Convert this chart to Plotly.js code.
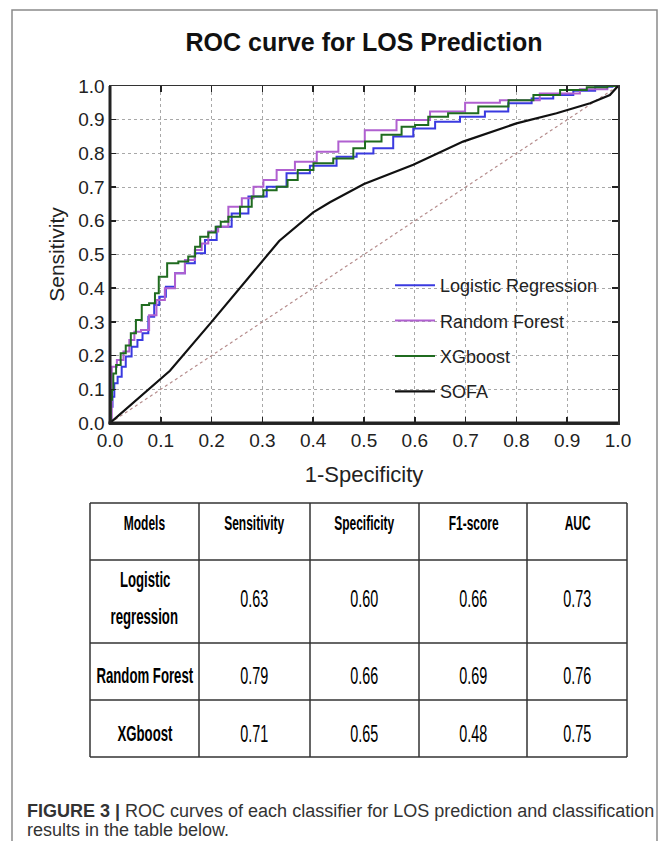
<!DOCTYPE html>
<html>
<head>
<meta charset="utf-8">
<script src="https://cdn.plot.ly/plotly-3.0.1.min.js"></script>
<style>
html,body{margin:0;padding:0;background:#fff;}
#chart{width:669px;height:841px;}
</style>
</head>
<body>
<div id="chart"></div>
<script>
// ---------- ROC data ----------
var lrFpr = [0, 0.003, 0.007, 0.010, 0.020, 0.026, 0.036, 0.049, 0.059, 0.069, 0.082, 0.092, 0.102, 0.118, 0.138, 0.157, 0.177, 0.197, 0.223, 0.256, 0.289, 0.328, 0.367, 0.420, 0.472, 0.499, 0.538, 0.577, 0.617, 0.663, 0.715, 0.761, 0.807, 0.853, 0.892, 0.932, 0.978, 1.0];
var lrTpr = [0, 0.048, 0.078, 0.118, 0.137, 0.167, 0.197, 0.226, 0.246, 0.266, 0.315, 0.350, 0.375, 0.404, 0.444, 0.474, 0.504, 0.543, 0.582, 0.622, 0.672, 0.701, 0.741, 0.763, 0.790, 0.800, 0.815, 0.850, 0.874, 0.894, 0.909, 0.924, 0.949, 0.963, 0.973, 0.986, 0.998, 1.0];

var rfFpr = [0, 0.007, 0.020, 0.033, 0.043, 0.053, 0.069, 0.085, 0.098, 0.118, 0.138, 0.157, 0.177, 0.184, 0.203, 0.223, 0.243, 0.276, 0.289, 0.315, 0.341, 0.387, 0.427, 0.472, 0.531, 0.597, 0.663, 0.735, 0.800, 0.892, 0.958, 1.0];
var rfTpr = [0, 0.167, 0.187, 0.212, 0.246, 0.271, 0.276, 0.320, 0.365, 0.400, 0.444, 0.484, 0.513, 0.533, 0.568, 0.582, 0.642, 0.667, 0.701, 0.721, 0.751, 0.775, 0.805, 0.835, 0.869, 0.899, 0.924, 0.950, 0.958, 0.978, 0.990, 1.0];

var xgFpr = [0, 0.003, 0.005, 0.008, 0.016, 0.026, 0.036, 0.046, 0.056, 0.069, 0.085, 0.092, 0.100, 0.125, 0.144, 0.164, 0.171, 0.184, 0.203, 0.213, 0.223, 0.243, 0.269, 0.289, 0.315, 0.341, 0.358, 0.381, 0.420, 0.459, 0.499, 0.505, 0.564, 0.584, 0.617, 0.636, 0.695, 0.755, 0.814, 0.853, 0.919, 0.958, 1.0];
var xgTpr = [0, 0.069, 0.098, 0.147, 0.172, 0.207, 0.230, 0.266, 0.306, 0.350, 0.355, 0.385, 0.434, 0.474, 0.479, 0.494, 0.523, 0.553, 0.565, 0.582, 0.597, 0.612, 0.642, 0.672, 0.691, 0.701, 0.721, 0.751, 0.771, 0.785, 0.815, 0.835, 0.855, 0.879, 0.884, 0.909, 0.919, 0.939, 0.958, 0.973, 0.988, 0.996, 1.0];

var sofaFpr = [0, 0.118, 0.200, 0.269, 0.333, 0.400, 0.433, 0.500, 0.597, 0.695, 0.800, 0.879, 0.945, 0.984, 1.0];
var sofaTpr = [0, 0.155, 0.300, 0.425, 0.540, 0.625, 0.655, 0.709, 0.766, 0.835, 0.889, 0.919, 0.949, 0.973, 1.0];

var chanceX = [0, 1];
var chanceY = [0, 1];

var seriesNames = ['Logistic Regression', 'Random Forest', 'XGboost', 'SOFA'];
var axisTicks = [0, 0.1, 0.2, 0.3, 0.4, 0.5, 0.6, 0.7, 0.8, 0.9, 1.0];

// ---------- table data ----------
var tableHeaders = ['Models', 'Sensitivity', 'Specificity', 'F1-score', 'AUC'];
var tableModels = [['Logistic', 'regression'], ['Random Forest'], ['XGboost']];
var tableSensitivity = ['0.63', '0.79', '0.71'];
var tableSpecificity = ['0.60', '0.66', '0.65'];
var tableF1 = ['0.66', '0.69', '0.48'];
var tableAUC = ['0.73', '0.76', '0.75'];

var captionBold = 'FIGURE 3 |';
var captionLine1 = ' ROC curves of each classifier for LOS prediction and classification';
var captionLine2 = 'results in the table below.';

// ---------- layout helpers (pixel -> paper) ----------
var PL = 110, PR = 618, PT = 86, PB = 423;
function X(px) { return (px - PL) / (PR - PL); }
function Y(py) { return (PB - py) / (PB - PT); }

var sans = 'Liberation Sans, Arial, Helvetica, sans-serif';
var colors = ['#3a3ae0', '#b060d0', '#1f6b1f', '#111111'];

var traces = [
  {x: chanceX, y: chanceY, mode: 'lines', showlegend: false, hoverinfo: 'skip',
   line: {color: '#b58c8c', width: 1.2, dash: 'dot'}},
  {x: lrFpr, y: lrTpr, name: seriesNames[0], legendgroup: 'g1', mode: 'lines',
   line: {color: colors[0], width: 2, shape: 'hvh'}},
  {x: rfFpr, y: rfTpr, name: seriesNames[1], legendgroup: 'g2', mode: 'lines',
   line: {color: colors[1], width: 2, shape: 'hvh'}},
  {x: xgFpr, y: xgTpr, name: seriesNames[2], legendgroup: 'g3', mode: 'lines',
   line: {color: colors[2], width: 2, shape: 'hvh'}},
  {x: sofaFpr, y: sofaTpr, name: seriesNames[3], legendgroup: 'g4', mode: 'lines',
   line: {color: colors[3], width: 2.2}}
];

// table geometry
var colEdges = [90, 199, 310, 419, 527, 627];
var rowEdges = [503, 560, 643, 700, 757];
var rowTextY = [523, 598, 675, 733];
var condense = 0.6; // horizontal squeeze for the narrow table face

var shapes = [];
var annotations = [];
var tableAnnIdx = [];

// outer frame
shapes.push({type: 'rect', xref: 'paper', yref: 'paper',
  x0: X(12), x1: X(657), y0: Y(860), y1: Y(10),
  line: {color: '#8a8a8a', width: 1.5}, fillcolor: 'rgba(0,0,0,0)'});

// heavier left and bottom axis lines
shapes.push({type: 'line', xref: 'paper', yref: 'paper', x0: 0, x1: 0, y0: -0.004, y1: 1,
  line: {color: '#222', width: 3}});
shapes.push({type: 'line', xref: 'paper', yref: 'paper', x0: -0.003, x1: 1, y0: 0, y1: 0,
  line: {color: '#222', width: 3}});

// table lines
rowEdges.forEach(function (r) {
  shapes.push({type: 'line', xref: 'paper', yref: 'paper',
    x0: X(colEdges[0]), x1: X(colEdges[colEdges.length - 1]), y0: Y(r), y1: Y(r),
    line: {color: '#333', width: 1.5}});
});
colEdges.forEach(function (c) {
  shapes.push({type: 'line', xref: 'paper', yref: 'paper',
    x0: X(c), x1: X(c), y0: Y(rowEdges[0]), y1: Y(rowEdges[rowEdges.length - 1]),
    line: {color: '#333', width: 1.5}});
});

function colCenter(i) { return (colEdges[i] + colEdges[i + 1]) / 2; }
function cell(text, ci, py, bold, size) {
  tableAnnIdx.push(annotations.length);
  annotations.push({xref: 'paper', yref: 'paper', x: X(colCenter(ci)), y: Y(py),
    xanchor: 'center', yanchor: 'middle', showarrow: false,
    text: bold ? '<b>' + text + '</b>' : text,
    font: {family: sans, size: size, color: '#000'}});
}
tableHeaders.forEach(function (h, i) { cell(h, i, rowTextY[0], true, 20); });
var valueCols = [tableSensitivity, tableSpecificity, tableF1, tableAUC];
tableModels.forEach(function (lines, r) {
  var cy = rowTextY[r + 1];
  var gap = 37;
  lines.forEach(function (ln, k) {
    cell(ln, 0, cy + (k - (lines.length - 1) / 2) * gap, true, 22);
  });
  valueCols.forEach(function (col, c) { cell(col[r], c + 1, cy, false, 24); });
});

// caption
annotations.push({xref: 'paper', yref: 'paper', x: X(25), y: Y(811), xanchor: 'left', yanchor: 'middle',
  showarrow: false, align: 'left', text: '<b>' + captionBold + '</b>' + captionLine1,
  font: {family: sans, size: 18, color: '#333'}});
annotations.push({xref: 'paper', yref: 'paper', x: X(25), y: Y(830), xanchor: 'left', yanchor: 'middle',
  showarrow: false, align: 'left', text: captionLine2,
  font: {family: sans, size: 18, color: '#333'}});

var axisCommon = {
  range: [0, 1], tickvals: axisTicks, tickformat: '.1f',
  showline: true, linewidth: 1.5, linecolor: '#333', mirror: 'ticks',
  ticks: 'inside', ticklen: 6, tickwidth: 1.5, tickcolor: '#222',
  showgrid: true, gridcolor: '#a8a8a8', griddash: 'dot', gridwidth: 1,
  zeroline: false, fixedrange: true,
  tickfont: {family: sans, size: 19, color: '#222'}
};

var layout = {
  width: 669, height: 841,
  margin: {l: PL, r: 669 - PR, t: PT, b: 841 - PB},
  paper_bgcolor: '#fff', plot_bgcolor: '#fff',
  title: {text: '<b>ROC curve for LOS Prediction</b>', x: 0.5, xref: 'paper',
    y: 1 - 42 / 841, yref: 'container', yanchor: 'middle',
    font: {family: sans, size: 25, color: '#111'}},
  xaxis: Object.assign({}, axisCommon, {
    title: {text: '1-Specificity', font: {family: sans, size: 22, color: '#222'}, standoff: 16}
  }),
  yaxis: Object.assign({}, axisCommon, {
    title: {text: 'Sensitivity', font: {family: sans, size: 21, color: '#222'}, standoff: 8}
  }),
  showlegend: true,
  legend: {x: X(390), y: Y(267), xanchor: 'left', yanchor: 'top',
    bgcolor: 'rgba(0,0,0,0)', borderwidth: 0, traceorder: 'grouped', tracegroupgap: 9,
    itemwidth: 40,
    font: {family: sans, size: 18, color: '#222'}},
  shapes: shapes,
  annotations: annotations
};

Plotly.newPlot('chart', traces, layout, {displayModeBar: false, staticPlot: true}).then(function (gd) {
  // squeeze table text horizontally to imitate the condensed face of the original table
  var groups = gd.querySelectorAll('.annotation');
  groups.forEach(function (g) {
    var idx = +g.getAttribute('data-index');
    if (tableAnnIdx.indexOf(idx) < 0) return;
    var t = g.querySelector('text.annotation-text');
    if (!t) return;
    var bb = t.getBBox();
    var cx = bb.x + bb.width / 2;
    t.setAttribute('transform', 'translate(' + cx + ',0) scale(' + condense + ',1) translate(' + (-cx) + ',0)');
  });
});
</script>
</body>
</html>
